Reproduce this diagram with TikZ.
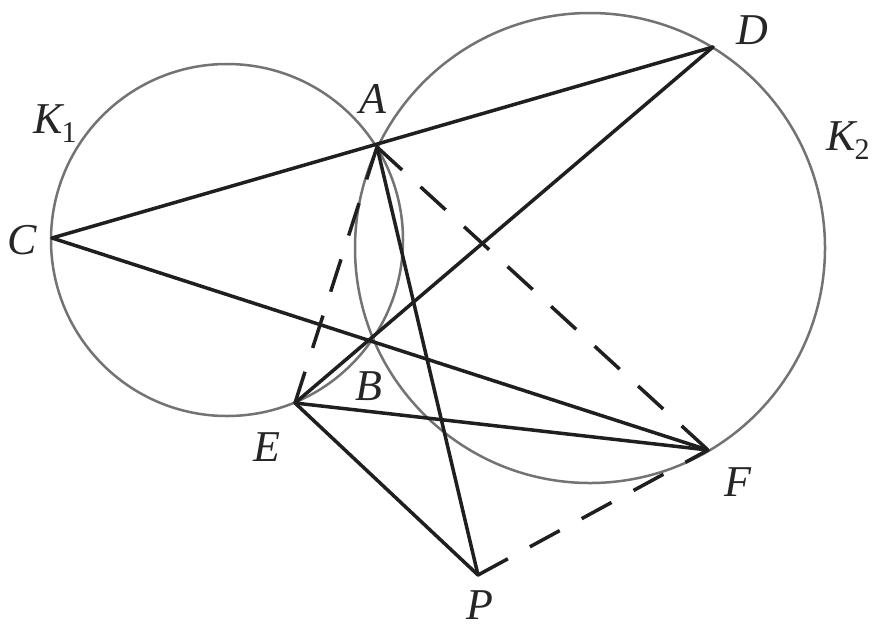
\documentclass[tikz,border=0pt]{standalone}
\usepackage{fontspec}
\setmainfont{Liberation Serif}
\begin{document}
\begin{tikzpicture}[x=1pt,y=-1pt,
  circ/.style={draw=black!55,line width=2.5pt},
  seg/.style={draw=black!88,line width=3.5pt,line cap=round},
  dseg/.style={draw=black!88,line width=3.5pt,dash pattern=on 34pt off 25pt},
  lbl/.style={font=\fontsize{44}{48}\selectfont\itshape,inner sep=0pt,text=black!85}]
\useasboundingbox (0,0) rectangle (874,633);
\fill[white] (0,0) rectangle (874,633);
% points
\coordinate (A) at (377,147);
\coordinate (B) at (372,338);
\coordinate (C) at (52,238);
\coordinate (D) at (713,47);
\coordinate (E) at (295,403);
\coordinate (F) at (708,450);
\coordinate (P) at (478,575);
\coordinate (O1) at (227,240);
\coordinate (O2) at (590,248);
% circles
\draw[circ] (O1) circle (176pt);
\draw[circ] (O2) circle (235pt);
% solid lines
\draw[seg] (C) -- (D);
\draw[seg] (C) -- (F);
\draw[seg] (D) -- (E);
\draw[seg] (A) -- (P);
\draw[seg] (E) -- (F);
\draw[seg] (E) -- (P);
% dashed lines
\draw[dseg] (A) -- (E);
\draw[dseg] (A) -- (F);
\draw[dseg] (P) -- (F);
% labels
\node[lbl] (lA) at (373,99) {A};
\node[lbl] (lB) at (369,386) {B};
\node[lbl] (lC) at (22,240) {C};
\node[lbl] (lD) at (752,30) {D};
\node[lbl] (lE) at (267,447) {E};
\node[lbl] (lF) at (738,482) {F};
\node[lbl] (lP) at (480,605) {P};
\node[lbl,anchor=base] (lK1) at (55,133) {K\kern-1pt{\fontsize{30}{32}\selectfont\upshape\raisebox{-9pt}{1}}};
\node[lbl,anchor=base] (lK2) at (848,150) {K\kern-1pt{\fontsize{30}{32}\selectfont\upshape\raisebox{-9pt}{2}}};
\end{tikzpicture}
\end{document}
